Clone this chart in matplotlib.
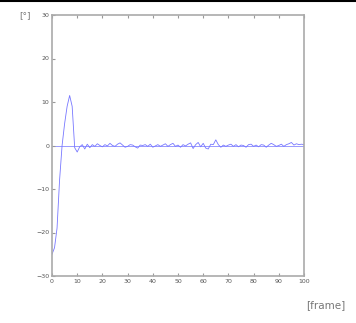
import matplotlib
matplotlib.use("Agg")
import matplotlib.pyplot as plt
import numpy as np

frames = list(range(0, 101))
angle = [-25.0, -23.5, -19.0, -8.0, 0.0, 5.0, 9.0, 11.5, 9.0, -0.5,
         -1.5, -0.3, 0.2, -0.8, 0.3, -0.5, 0.2, -0.2, 0.4, 0.0,
         -0.3, 0.2, -0.1, 0.5, 0.0, -0.2, 0.3, 0.6, 0.1, -0.4,
         -0.2, 0.2, 0.1, -0.3, -0.6, 0.1, 0.0, 0.2, -0.2, 0.3,
         -0.4, -0.1, 0.2, -0.2, 0.1, 0.4, -0.2, 0.2, 0.5, -0.2,
         0.1, -0.4, 0.2, -0.1, 0.3, 0.6, -0.7, 0.2, 0.7, -0.3,
         0.5, -0.6, -0.8, 0.3, 0.2, 1.3, 0.2, -0.4, 0.1, -0.2,
         0.1, 0.3, -0.2, 0.2, -0.3, 0.1, 0.0, -0.4, 0.2, 0.3,
         -0.2, 0.1, -0.3, 0.2, 0.1, -0.4, 0.1, 0.5, 0.2, -0.2,
         0.0, 0.3, -0.2, 0.2, 0.4, 0.7, 0.1, 0.4, 0.2, 0.3, 0.2]
xticks = list(range(0, 101, 10))
yticks = list(range(-30, 31, 10))

fig = plt.figure(figsize=(3.56, 3.23), dpi=100)
ax = fig.add_axes([52/356, 1-276/323, (304-52)/356, (276-15)/323])
gray = "#999999"
ax.axhline(0, color="#9999ff", lw=0.7, zorder=1)
ax.plot(frames, angle, color="#7777ff", lw=0.6, zorder=2)
ax.set_xlim(0, 100)
ax.set_ylim(-30, 30)
ax.set_xticks(xticks)
ax.set_yticks(yticks)
ax.tick_params(direction="in", length=2, width=0.8, color=gray, labelcolor="#555555",
               labelsize=4.5, top=True, right=False, pad=2)
for s in ax.spines.values():
    s.set_color("#aaaaaa")
    s.set_linewidth(1.2)
fig.text(25/356, 1-16/323, "[°]", fontsize=6.5, color="#777777", ha="center", va="center")
fig.text(326/356, 1-305/323, "[frame]", fontsize=7.5, color="#777777", ha="center", va="center")
fig.add_artist(plt.Line2D([0, 1], [1-1/323, 1-1/323], color="black", lw=1.5, transform=fig.transFigure))
fig.savefig("out.png", dpi=100)
